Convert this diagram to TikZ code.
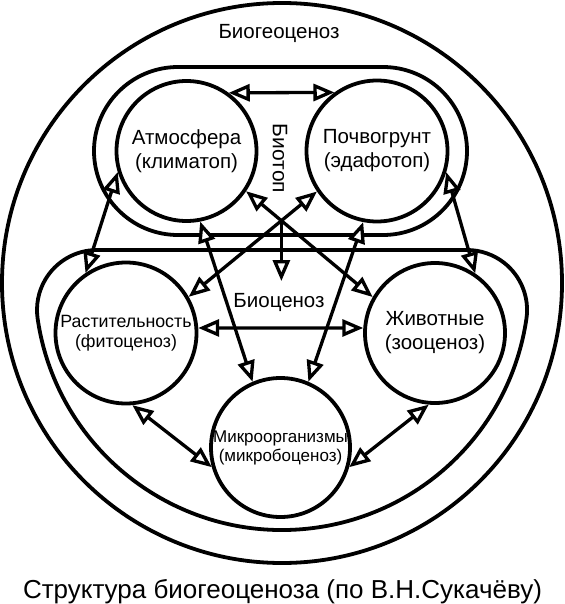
\documentclass[tikz,border=0pt]{standalone}
\usepackage{fontspec}
\setmainfont{Liberation Sans}
\usetikzlibrary{arrows.meta}
\begin{document}
\begin{tikzpicture}[x=1pt,y=1pt,
  ring/.style={line width=3.8pt},
  bubble/.style={circle,draw,line width=3.8pt,inner sep=0pt,minimum size=#1},
  lbl/.style={align=center,inner sep=0pt,font=\fontsize{20.5}{24}\selectfont},
  lblsmall/.style={align=center,inner sep=0pt,font=\fontsize{17.8}{20}\selectfont},
  lbltiny/.style={align=center,inner sep=0pt,font=\fontsize{17}{19}\selectfont},
  tipA/.tip={Triangle[open,fill=white,length=21pt,width=17pt]},
  dbl/.style={line width=3.3pt,tipA-tipA},
  sgl/.style={line width=3.3pt,-tipA}]
\useasboundingbox (0,0) rectangle (564,-604);
% outer circle (biogeocenosis)
\draw[ring] (282,-283) circle[radius=280];
% biotope stadium
\draw[ring] (178,-67) -- (383,-67) arc[start angle=90,end angle=-90,radius=84]
  -- (178,-235) arc[start angle=270,end angle=90,radius=84] -- cycle;
% biocenosis boundary
\draw[ring] (97,-250) arc[start angle=90,end angle=188.3,radius=60]
  arc[start angle=188.3,end angle=351.7,radius=247]
  arc[start angle=-8.3,end angle=90,radius=60] -- cycle;
% components
\node[bubble=140pt] (atm) at (186.5,-151) {};
\node[bubble=141pt] (poch) at (377,-151) {};
\node[bubble=141pt] (rast) at (126,-333) {};
\node[bubble=140pt] (zhiv) at (435,-333) {};
\node[bubble=139pt] (mikro) at (280.5,-447.5) {};
% connectors
\draw[dbl] (atm.54) -- (poch.126);
\draw[dbl] (atm.197) -- (rast.124);
\draw[dbl] (poch.343) -- (zhiv.56);
\draw[dbl] (atm.281) -- (mikro.113);
\draw[dbl] (poch.259) -- (mikro.67);
\draw[dbl] (atm.326) -- (zhiv.150);
\draw[dbl] (poch.214) -- (rast.30);
\draw[dbl] (rast.4) -- (zhiv.176);
\draw[dbl] (rast.275) -- (mikro.196);
\draw[dbl] (zhiv.265) -- (mikro.344);
\coordinate (hub) at (intersection of atm.326--zhiv.150 and poch.214--rast.30);
\coordinate (vend) at (279,-281);
\draw[sgl] (hub) -- (hub |- vend);
% labels
\node[lbl] (atmT) at (atm) {Атмосфера\\(климатоп)};
\node[lbl] (pochT) at (poch) {Почвогрунт\\(эдафотоп)};
\node[lblsmall] (rastT) at (rast) {Растительность\\(фитоценоз)};
\node[lbl] (zhivT) at (zhiv) {Животные\\(зооценоз)};
\node[lbltiny] (mikroT) at (mikro) {Микроорганизмы\\(микробоценоз)};
\node[lbl,anchor=base] (bgc) at (279,-39) {Биогеоценоз};
\node[lbl,anchor=base] (bc) at (279,-307) {Биоценоз};
\node[lbl,rotate=-90,font=\fontsize{21}{24}\selectfont] (bt) at (280,-158.5) {Биотоп};
\node[anchor=base,inner sep=0pt,font=\fontsize{26}{29}\selectfont] (cap) at (282.5,-598) {Структура биогеоценоза (по В.Н.Сукачёву)};
\end{tikzpicture}
\end{document}
